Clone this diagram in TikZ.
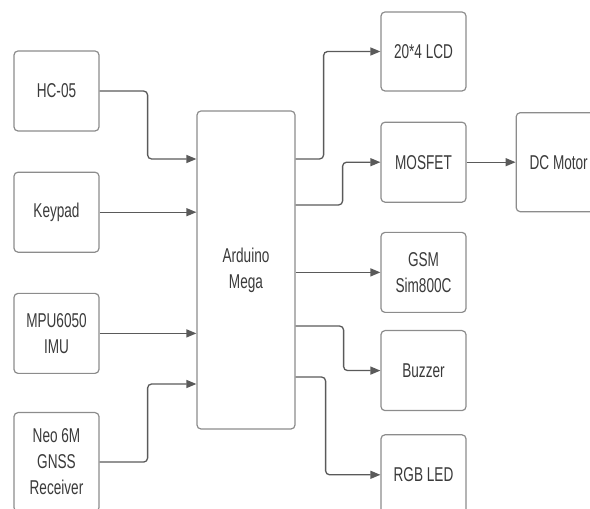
\documentclass[tikz,border=0pt]{standalone}
\usepackage{fontspec}
\newfontfamily\diagfont{Liberation Sans}[FakeStretch=0.68]
\usepackage{xcolor}
\usepackage{tikz}
\usetikzlibrary{arrows.meta, positioning}

\definecolor{boxline}{HTML}{8C8C8C}
\definecolor{wire}{HTML}{5A5A5A}
\definecolor{txt}{HTML}{3A3A3A}

\begin{document}
\begin{tikzpicture}[
    x=1pt, y=1pt,
    block/.style={draw=boxline, line width=1.2pt, rectangle, rounded corners=4pt, align=center, minimum width=85pt, minimum height=80pt, text=txt, font=\diagfont\fontsize{20}{26}\selectfont},
    arrow/.style={draw=wire, line width=1.3pt, rounded corners=4pt, -{Triangle[length=10pt, width=8pt]}}
]
\useasboundingbox (0,0) rectangle (590,509);

% Nodes
\node[block, minimum width=98pt, minimum height=318pt] (ard) at (246,239) {Arduino\\Mega};

\node[block] (hc) at (56.5,418) {HC-05};
\node[block, below=40pt of hc] (key) {Keypad};
\node[block, below=40pt of key] (mpu) {MPU6050\\IMU};
\node[block, below=38pt of mpu, minimum height=99pt] (neo) {Neo 6M\\GNSS\\Receiver};

\node[block, minimum height=79pt] (lcd) at (423.5,457.5) {20*4 LCD};
\node[block, below=30pt of lcd] (mos) {MOSFET};
\node[block, below=29pt of mos] (gsm) {GSM\\Sim800C};
\node[block, below=17pt of gsm] (buz) {Buzzer};
\node[block, below=23pt of buz] (rgb) {RGB LED};
\node[block, right=49pt of mos, minimum height=99pt] (dcm) {DC Motor};

% Inputs
\draw[arrow] (hc.east) -- ++(48,0) |- ([yshift=111pt]ard.west);
\draw[arrow] (key.east) -- (key.east -| ard.west);
\draw[arrow] (mpu.east) -- (mpu.east -| ard.west);
\draw[arrow] (neo.east) -- ++(48,0) |- ([yshift=-114pt]ard.west);

% Outputs
\draw[arrow] ([yshift=111pt]ard.east) -- ++(28,0) |- (lcd.west);
\draw[arrow] ([yshift=65pt]ard.east) -- ++(47,0) |- (mos.west);
\draw[arrow] (gsm.west -| ard.east) -- (gsm.west);
\draw[arrow] ([yshift=-56pt]ard.east) -- ++(48,0) |- (buz.west);
\draw[arrow] ([yshift=-107pt]ard.east) -- ++(30,0) |- (rgb.west);
\draw[arrow] (mos) -- (dcm);

\end{tikzpicture}
\end{document}
